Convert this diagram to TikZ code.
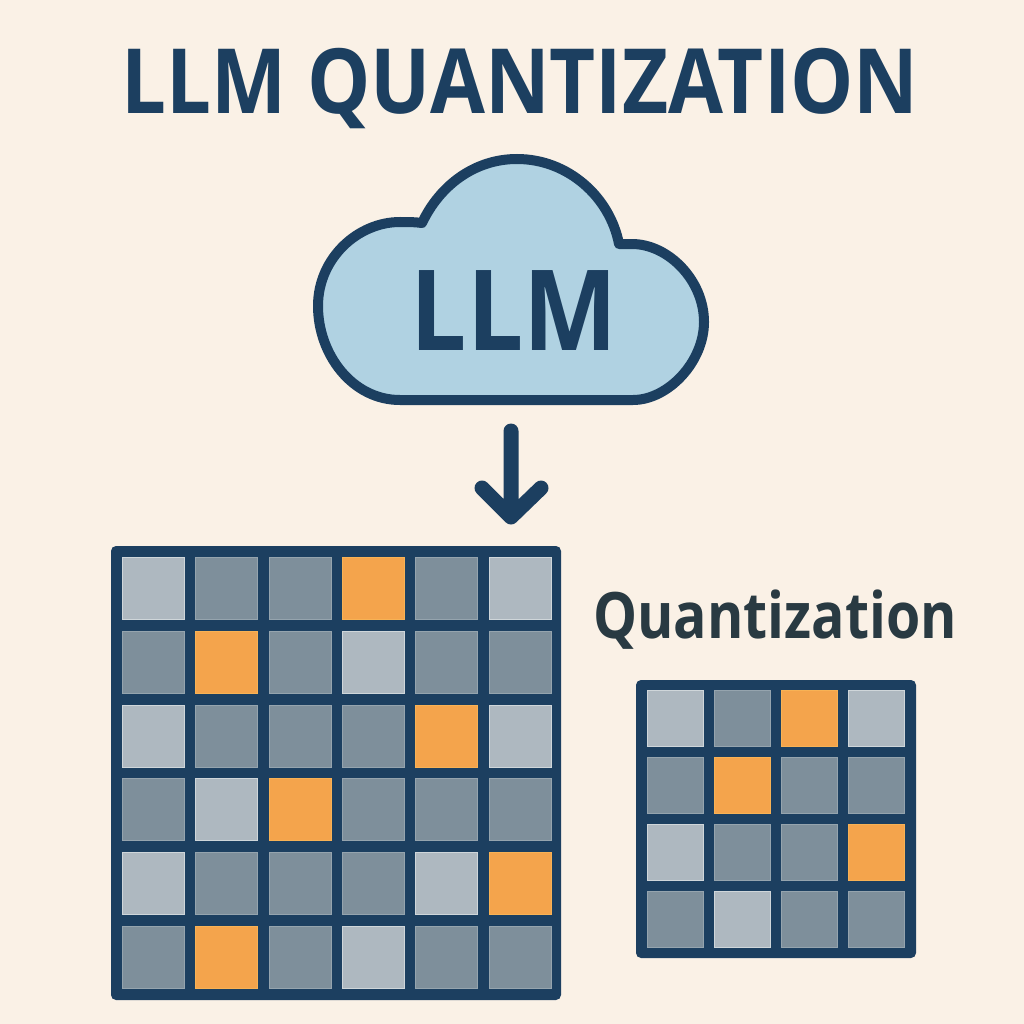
\documentclass[tikz,border=0pt]{standalone}
\usepackage{fontspec}
\setmainfont{Open Sans}[BoldFont={Open Sans Bold},BoldFeatures={}]
\definecolor{bg}{HTML}{FAF1E6}
\definecolor{navy}{HTML}{1C3F60}
\definecolor{cloudc}{HTML}{B0D2E2}
\definecolor{lg}{HTML}{AEB8C0}
\definecolor{mg}{HTML}{7E8F9B}
\definecolor{og}{HTML}{F4A44C}
\definecolor{dk}{HTML}{293A42}
\definecolor{lgedge}{HTML}{CFD6DA}
\definecolor{mgedge}{HTML}{95A4AE}
\definecolor{ogedge}{HTML}{F8B255}
\tikzset{
 frame/.style={fill=navy,rounded corners=5pt},
 cellL/.style={fill=lg,draw=lgedge,line width=0.8pt},
 cellM/.style={fill=mg,draw=mgedge,line width=0.8pt},
 cellO/.style={fill=og,draw=ogedge,line width=0.8pt},
 label/.style={text=navy,inner sep=0pt,anchor=base}
}
\begin{document}
\begin{tikzpicture}[x=1pt,y=-1pt]
\useasboundingbox (0,0) rectangle (1024,1024);
\fill[bg] (0,0) rectangle (1024,1024);
\node[label,font=\fontsize{90}{90}\selectfont\bfseries] (title) at (520,114) {\scalebox{0.885}[1]{LLM QUANTIZATION}};
% cloud
\draw[navy,line width=10pt,fill=cloudc,line join=round]
 (400,400) .. controls (352,400) and (318,354) .. (318,306)
 .. controls (318,258) and (358,222) .. (400,222)
 .. controls (408,222) and (415,222) .. (422,223)
 .. controls (440,185) and (475,159) .. (517,159)
 .. controls (568,159) and (610,197) .. (619,244)
 -- (632,244)
 .. controls (668,244) and (704,280) .. (704,322)
 .. controls (704,362) and (668,400) .. (633,400) -- cycle;
\node[label,font=\fontsize{112}{112}\selectfont\bfseries] (llm) at (514,350) {\scalebox{0.89}[1]{LLM}};
% arrow
\coordinate (a1) at (511,431);
\coordinate (a2) at (511,517);
\coordinate (a3) at (482,488);
\coordinate (a4) at (541,488);
\draw[navy,line width=15pt,line cap=round,line join=round] (a1) -- (a2) (a3) -- (a2) -- (a4);
% big grid
\fill[frame] (111,546) rectangle (561,1000);
\foreach \r/\ca/\cb/\cc/\cd/\ce/\cf in {0/L/M/M/O/M/L,1/M/O/M/L/M/M,2/L/M/M/M/O/L,3/M/L/O/M/M/M,4/L/M/M/M/L/O,5/M/O/M/L/M/M}{
  \foreach \c/\t in {0/\ca,1/\cb,2/\cc,3/\cd,4/\ce,5/\cf}{
    \fill[cell\t] ({122.5+73.3*\c},{557.5+73.7*\r}) rectangle ++(62,62);
  }
}
\node[label,text=dk,font=\fontsize{64}{64}\selectfont\bfseries] (quant) at (775,638) {\scalebox{0.866}[1]{Quantization}};
% small grid
\fill[frame] (636,680) rectangle (916,958);
\foreach \r/\ca/\cb/\cc/\cd in {0/L/M/O/L,1/M/O/M/M,2/L/M/M/O,3/M/L/M/M}{
  \foreach \c/\t in {0/\ca,1/\cb,2/\cc,3/\cd}{
    \fill[cell\t] ({647+67.2*\c},{690.5+66.8*\r}) rectangle ++(56,56);
  }
}
\end{tikzpicture}
\end{document}
